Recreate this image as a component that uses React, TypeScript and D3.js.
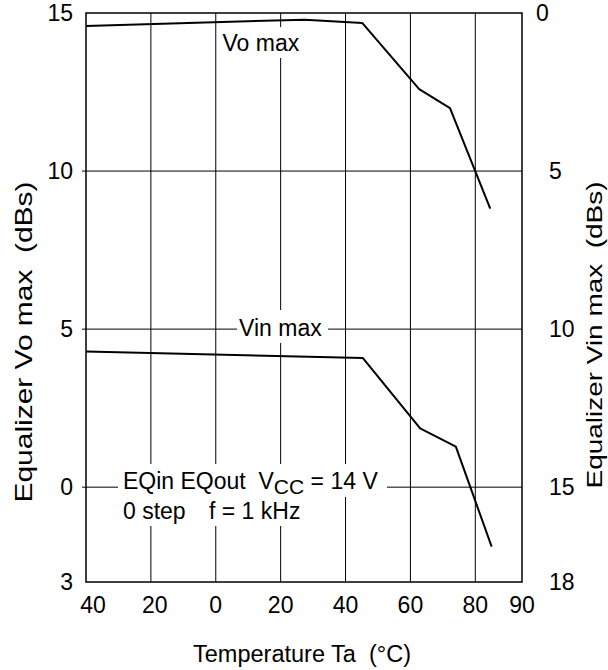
import React from "react";
import * as d3 from "d3";

// ---- data ----
const xTickValues = [-40, -20, 0, 20, 40, 60, 80, 90];
const xTickLabels = ["40", "20", "0", "20", "40", "60", "80", "90"];
const xGridValues = [-20, 0, 20, 40, 60, 80];

const leftTickValues = [15, 10, 5, 0, -3];
const leftTickLabels = ["15", "10", "5", "0", "3"];
const rightTickValues = [0, 5, 10, 15, 18];
const rightTickLabels = ["0", "5", "10", "15", "18"];
const hGridValues = [10, 5, 0];

// Vo max (left axis, dBs)
const voTemp = [-40, 27.5, 45.2, 62.7, 72.2, 83.2];
const voMax = [14.59, 14.79, 14.68, 12.59, 11.99, 8.81];

// Vin max (right axis, dBs, reversed)
const vinTemp = [-40, 45.3, 63.0, 74.0, 83.5];
const vinMax = [10.71, 10.91, 13.14, 13.72, 16.88];

const FONT = "'Liberation Sans', Arial, Helvetica, sans-serif";

export default function App() {
  const W = 608;
  const H = 670;
  const L = 86, R = 522, T = 13, B = 582;

  const x = d3.scaleLinear().domain([-40, 80, 90]).range([L, 475.3, R]);
  const yL = d3.scaleLinear().domain([-3, 15]).range([B, T]);
  const yR = d3.scaleLinear().domain([0, 18]).range([T, B]);

  const voLine = d3
    .line<number>()
    .x((_, i) => x(voTemp[i]))
    .y((d) => yL(d));
  const vinLine = d3
    .line<number>()
    .x((_, i) => x(vinTemp[i]))
    .y((d) => yR(d));

  const txt: React.CSSProperties = { whiteSpace: "pre" };

  return (
    <svg
      width={W}
      height={H}
      style={{ position: "absolute", left: 0, top: 0, background: "#fff" }}
      fontFamily={FONT}
    >
      <rect x={0} y={0} width={W} height={H} fill="#fff" />
      {/* grid */}
      <g stroke="#000" strokeWidth={1}>
        {xGridValues.map((v) => (
          <line key={"vx" + v} x1={x(v)} x2={x(v)} y1={T} y2={B} />
        ))}
        {hGridValues.map((v) => (
          <line key={"hy" + v} x1={L} x2={R} y1={yL(v)} y2={yL(v)} />
        ))}
        {hGridValues.map((v) => (
          <line key={"tk" + v} x1={L - 4} x2={L} y1={yL(v)} y2={yL(v)} />
        ))}
      </g>

      {/* label backgrounds */}
      <g fill="#fff">
        <rect x={218} y={27} width={88} height={31} />
        <rect x={237} y={310} width={91} height={33} />
        <rect x={118} y={464} width={269} height={33} />
        <rect x={118} y={497} width={200} height={29} />
      </g>

      {/* annotations */}
      <g fontSize={23} fill="#000">
        <text x={222.5} y={50.5} style={txt}>Vo max</text>
        <text x={239} y={335.5} style={txt}>Vin max</text>
        <text x={123} y={489} style={txt}>
          {"EQin EQout  V"}
          <tspan fontSize={21} dy={5}>CC</tspan>
          <tspan dy={-5}>{" = 14 V"}</tspan>
        </text>
        <text x={123} y={518.5} style={txt}>
          {"0 step"}
          <tspan x={209}>{"f = 1 kHz"}</tspan>
        </text>
      </g>

      {/* data */}
      <path d={voLine(voMax) || ""} fill="none" stroke="#000" strokeWidth={2} strokeLinejoin="round" />
      <path d={vinLine(vinMax) || ""} fill="none" stroke="#000" strokeWidth={2} strokeLinejoin="round" />

      {/* frame */}
      <rect x={L} y={T} width={R - L} height={B - T} fill="none" stroke="#000" strokeWidth={1.5} />

      {/* tick labels */}
      <g fontSize={23} fill="#000">
        {leftTickValues.map((v, i) => (
          <text key={"l" + v} x={73} y={yL(v) + 8} textAnchor="end">
            {leftTickLabels[i]}
          </text>
        ))}
        {rightTickValues.map((v, i) => (
          <text key={"r" + v} x={v === 0 ? 536 : 549} y={yR(v) + 8} textAnchor="start">
            {rightTickLabels[i]}
          </text>
        ))}
        {xTickValues.map((v, i) => (
          <text key={"x" + i} x={x(v) + (i === 0 ? 7 : i === 1 ? 4 : 0)} y={613} textAnchor="middle">
            {xTickLabels[i]}
          </text>
        ))}
      </g>

      {/* axis titles */}
      <g fill="#000">
        <text x={302} y={661.5} fontSize={23.5} textAnchor="middle" style={txt}>
          {"Temperature Ta  (°C)"}
        </text>
        <text
          transform="translate(31.5,342) rotate(-90)"
          fontSize={24}
          textAnchor="middle"
          textLength={321}
          lengthAdjust="spacingAndGlyphs"
          style={txt}
        >
          {"Equalizer Vo max  (dBs)"}
        </text>
        <text
          transform="translate(601.5,335) rotate(-90)"
          fontSize={22.5}
          textAnchor="middle"
          textLength={307}
          lengthAdjust="spacingAndGlyphs"
          style={txt}
        >
          {"Equalizer Vin max  (dBs)"}
        </text>
      </g>
    </svg>
  );
}
